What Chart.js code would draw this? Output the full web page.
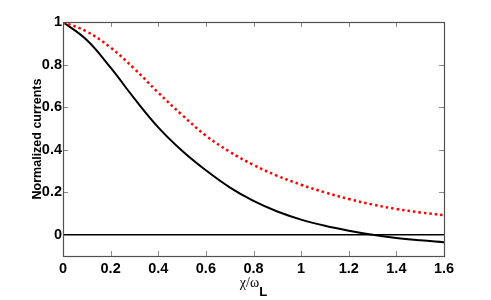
<!DOCTYPE html>
<html>
<head>
<meta charset="utf-8">
<script src="https://cdn.jsdelivr.net/npm/chart.js@4.4.1/dist/chart.umd.min.js"></script>
<style>
  html, body { margin: 0; padding: 0; background: #fff; }
  #wrap { width: 491px; height: 300px; }
</style>
</head>
<body>
<div id="wrap"><canvas id="c" width="491" height="300"></canvas></div>
<script>
// ---- data ----
const xValues = [0, 0.1, 0.2, 0.3, 0.4, 0.5, 0.6, 0.7, 0.8, 0.9, 1.0, 1.1, 1.2, 1.3, 1.4, 1.5, 1.6];
const solidSeries = [1.0, 0.915, 0.785, 0.64, 0.505, 0.395, 0.303, 0.223, 0.159, 0.109, 0.071, 0.042, 0.019, 0.0, -0.015, -0.026, -0.035];
const dottedSeries = [1.0, 0.955, 0.88, 0.78, 0.668, 0.563, 0.466, 0.39, 0.328, 0.277, 0.235, 0.199, 0.168, 0.142, 0.121, 0.105, 0.092];
const zeroLineX = [0, 1.6];
const zeroLineY = [0, 0];
const xTicks = [0, 0.2, 0.4, 0.6, 0.8, 1.0, 1.2, 1.4, 1.6];
const yTicks = [0, 0.2, 0.4, 0.6, 0.8, 1.0];
const yLabel = 'Normalized currents';
const xLabelMain = 'χ/ω';
const xLabelSub = 'L';

const toPoints = (xs, ys) => xs.map((x, i) => ({ x: x, y: ys[i] }));
const fmt = v => String(Math.round(v * 10) / 10);
const tickFamily = '"Liberation Sans", Arial, sans-serif';

const frame = {
  id: 'frame',
  afterDraw(chart) {
    const { ctx, chartArea: a, scales } = chart;
    ctx.save();
    // inward ticks on all four sides
    ctx.strokeStyle = '#8a8a8a';
    ctx.lineWidth = 1;
    const tl = 5;
    ctx.beginPath();
    xTicks.forEach(v => {
      const px = Math.round(scales.x.getPixelForValue(v)) + 0.5;
      ctx.moveTo(px, a.bottom); ctx.lineTo(px, a.bottom - tl);
      ctx.moveTo(px, a.top); ctx.lineTo(px, a.top + tl);
    });
    yTicks.forEach(v => {
      const py = Math.round(scales.y.getPixelForValue(v)) + 0.5;
      ctx.moveTo(a.left, py); ctx.lineTo(a.left + tl, py);
      ctx.moveTo(a.right, py); ctx.lineTo(a.right - tl, py);
    });
    ctx.stroke();
    // box
    ctx.strokeStyle = '#505050';
    ctx.lineWidth = 1.2;
    ctx.strokeRect(Math.round(a.left) + 0.5, Math.round(a.top) + 0.5,
                   Math.round(a.right - a.left), Math.round(a.bottom - a.top));
    // x axis title with subscript
    ctx.fillStyle = '#000';
    ctx.textBaseline = 'alphabetic';
    const mainFont = '14px "Liberation Serif", "DejaVu Serif", serif';
    const subFont = 'bold 13px "Liberation Sans", Arial, sans-serif';
    ctx.font = mainFont;
    const w1 = ctx.measureText(xLabelMain).width;
    ctx.font = subFont;
    const w2 = ctx.measureText(xLabelSub).width;
    const cx = (a.left + a.right) / 2;
    const x0 = cx - (w1 + w2) / 2;
    ctx.font = mainFont;
    ctx.textAlign = 'left';
    ctx.fillText(xLabelMain, x0, 287);
    ctx.font = subFont;
    ctx.fillText(xLabelSub, x0 + w1, 296);
    ctx.restore();
  }
};

new Chart(document.getElementById('c'), {
  type: 'line',
  data: {
    datasets: [
      {
        label: 'zero',
        data: toPoints(zeroLineX, zeroLineY),
        borderColor: '#000',
        borderWidth: 1.5,
        pointRadius: 0,
        tension: 0
      },
      {
        label: 'dotted',
        data: toPoints(xValues, dottedSeries),
        borderColor: '#ff0000',
        borderWidth: 2.5,
        borderDash: [2.5, 3],
        pointRadius: 0,
        tension: 0.4
      },
      {
        label: 'solid',
        data: toPoints(xValues, solidSeries),
        borderColor: '#000',
        borderWidth: 2,
        pointRadius: 0,
        tension: 0.4
      }
    ]
  },
  options: {
    responsive: false,
    animation: false,
    devicePixelRatio: 1,
    layout: { padding: { left: 0, right: 47, top: 22, bottom: 0 } },
    plugins: { legend: { display: false }, tooltip: { enabled: false } },
    scales: {
      x: {
        type: 'linear',
        min: 0, max: 1.6,
        afterBuildTicks: s => { s.ticks = xTicks.map(v => ({ value: v })); },
        afterFit: s => { s.height = 44; },
        grid: { display: false, drawTicks: false },
        border: { display: false },
        ticks: {
          padding: 4,
          color: '#000',
          maxRotation: 0,
          font: { family: tickFamily, size: 14.5, weight: 'bold' },
          callback: v => fmt(v)
        },
        title: { display: false }
      },
      y: {
        type: 'linear',
        min: -0.1, max: 1.0,
        afterBuildTicks: s => { s.ticks = yTicks.map(v => ({ value: v })); },
        afterFit: s => { s.width = 63; },
        grid: { display: false, drawTicks: false },
        border: { display: false },
        ticks: {
          padding: 1,
          color: '#000',
          font: { family: tickFamily, size: 14.5, weight: 'bold' },
          callback: v => fmt(v)
        },
        title: {
          display: true,
          text: yLabel,
          color: '#000',
          padding: { top: 30, bottom: 0 },
          font: { family: '"Liberation Sans", Arial, sans-serif', size: 12.5, weight: 'bold' }
        }
      }
    }
  },
  plugins: [frame]
});
</script>
</body>
</html>
